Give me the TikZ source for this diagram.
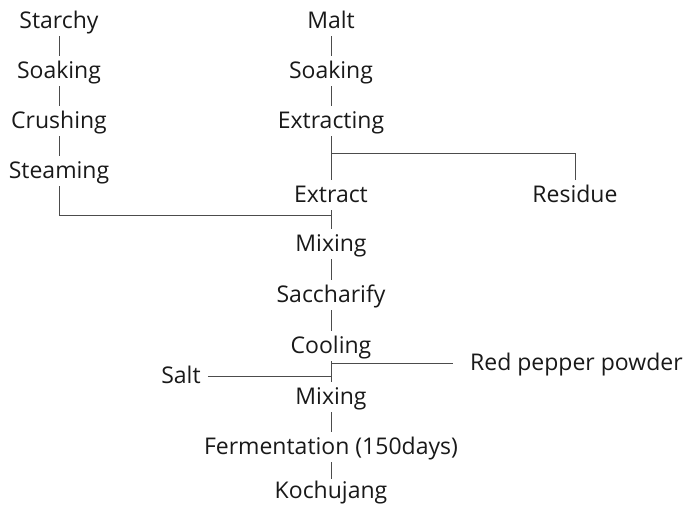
\documentclass[tikz,border=0pt]{standalone}
\usepackage{fontspec}
\setmainfont{Open Sans}
\begin{document}
\begin{tikzpicture}[x=1pt,y=-1pt,
    stage/.style={inner xsep=2pt, inner ysep=0pt, minimum height=30pt, text height=18pt, text depth=4pt, text=black!90, font=\fontsize{23}{27}\selectfont},
    link/.style={draw=black!70, line width=0.8pt}]
                \useasboundingbox (0,0) rectangle (686,506);
                \node[stage] (starchy) at (59,21) {Starchy};
                \node[stage] (soak1) at (59,71) {Soaking};
                \node[stage] (crush) at (59,121) {Crushing};
                \node[stage] (steam) at (59,171) {Steaming};

                \node[stage] (malt) at (331,21) {Malt};
                \node[stage] (soak2) at (331,71) {Soaking};
                \node[stage] (extracting) at (331,121) {Extracting};
                \node[stage] (extract) at (331,195) {Extract};
                \node[stage] (residue) at (575,195) {Residue};
                \node[stage] (mix1) at (331,244) {Mixing};
                \node[stage] (sacch) at (331,295) {Saccharify};
                \node[stage] (cool) at (331,346) {Cooling};
                \node[stage] (mix2) at (331,397) {Mixing};
                \node[stage] (ferm) at (331,447) {Fermentation (150days)};
                \node[stage, minimum height=24pt] (kochu) at (331,491) {Kochujang};
                \node[stage, inner xsep=7pt] (salt) at (181,376) {Salt};
                \node[stage, inner xsep=17pt, anchor=west] (pepper) at (453,363) {Red pepper powder};

                \coordinate (split) at (331,153);
                \coordinate (join1) at (331,215);
                \coordinate (join2) at (331,363);
                \coordinate (join3) at (331,376);

                \draw[link] (starchy) -- (soak1);
                \draw[link] (soak1) -- (crush);
                \draw[link] (crush) -- (steam);
                \draw[link] (steam) |- (join1);
                \draw[link] (malt) -- (soak2);
                \draw[link] (soak2) -- (extracting);
                \draw[link] (extracting) -- (extract);
                \draw[link] (split) -| (residue);
                \draw[link] (extract) -- (mix1);
                \draw[link] (mix1) -- (sacch);
                \draw[link] (sacch) -- (cool);
                \draw[link] (cool) -- (mix2);
                \draw[link] (join2) -- (pepper);
                \draw[link] (salt) -- (join3);
                \draw[link] (mix2) -- (ferm);
                \draw[link] (ferm) -- (kochu);
            \end{tikzpicture}
\end{document}
